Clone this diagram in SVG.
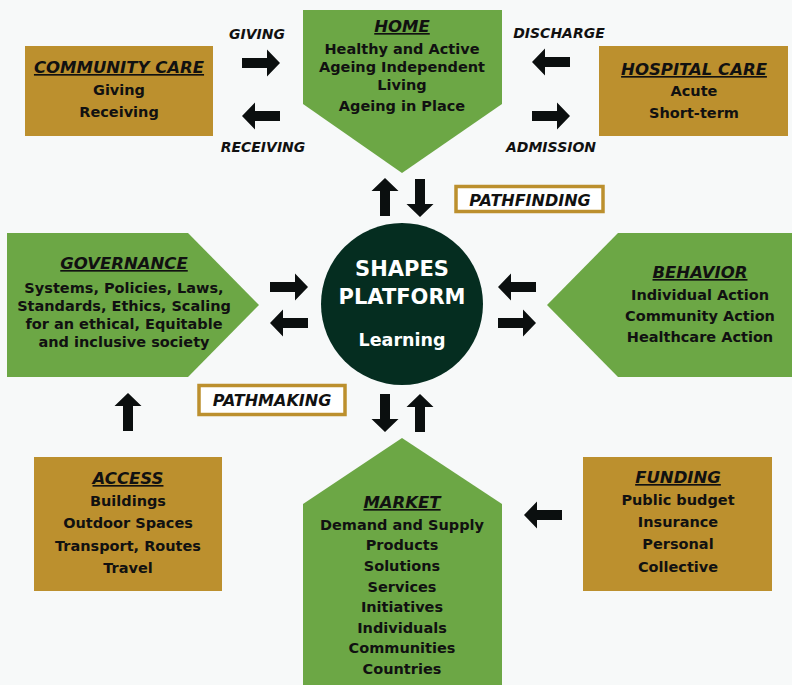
<svg xmlns="http://www.w3.org/2000/svg" xmlns:xlink="http://www.w3.org/1999/xlink" width="792" height="685" viewBox="0 0 792 685">
<style>
text{font-family:"DejaVu Sans","Liberation Sans",sans-serif;font-weight:bold;fill:#111;text-anchor:middle}
.t{font-size:16.5px;font-style:italic;text-decoration:underline}
.b{font-size:14.5px}
.l{font-size:14px;font-style:italic}
.p{font-size:16px;font-style:italic}
.w{fill:#fff}
.green{fill:#6ca745}
.gold{fill:#bc902e}
.tag{fill:#fff;stroke:#bc902e;stroke-width:3.5}
.arr{fill:#0b0f0f}
</style>
<defs>
<path id="ar" d="M0,-5 H25 V-13.5 L38,0 L25,13.5 V5 H0 Z"/>
</defs>
<rect width="792" height="685" fill="#f7f9f9"/>

<g id="home">
<polygon class="green" points="303,10 502,10 502,104 402,173 303,104"/>
<text class="t" x="402" y="32">HOME</text>
<text class="b" x="402" y="54">Healthy and Active</text>
<text class="b" x="402" y="72">Ageing Independent</text>
<text class="b" x="402" y="90">Living</text>
<text class="b" x="402" y="111">Ageing in Place</text>
</g>

<g id="community-care">
<rect class="gold" x="25" y="46" width="188" height="90"/>
<text class="t" x="119" y="73">COMMUNITY CARE</text>
<text class="b" x="119" y="95">Giving</text>
<text class="b" x="119" y="117">Receiving</text>
</g>

<g id="hospital-care">
<rect class="gold" x="599" y="46" width="189" height="90"/>
<text class="t" x="694" y="75">HOSPITAL CARE</text>
<text class="b" x="694" y="96">Acute</text>
<text class="b" x="694" y="118">Short-term</text>
</g>

<g id="governance">
<polygon class="green" points="7,233 188,233 259,305 188,377 7,377"/>
<text class="t" x="124" y="269">GOVERNANCE</text>
<text class="b" x="124" y="293">Systems, Policies, Laws,</text>
<text class="b" x="124" y="311">Standards, Ethics, Scaling</text>
<text class="b" x="124" y="329">for an ethical, Equitable</text>
<text class="b" x="124" y="347">and inclusive society</text>
</g>

<g id="behavior">
<polygon class="green" points="547,305 618,233 792,233 792,377 618,377"/>
<text class="t" x="700" y="278">BEHAVIOR</text>
<text class="b" x="700" y="300">Individual Action</text>
<text class="b" x="700" y="321">Community Action</text>
<text class="b" x="700" y="342">Healthcare Action</text>
</g>

<g id="platform">
<circle cx="402" cy="304" r="81" fill="#052d20"/>
<text class="w" x="402" y="275.5" style="font-size:21px">SHAPES</text>
<text class="w" x="402" y="303.5" style="font-size:21px">PLATFORM</text>
<text class="w" x="402" y="346" style="font-size:17.5px">Learning</text>
</g>

<g id="access">
<rect class="gold" x="34" y="457" width="188" height="134"/>
<text class="t" x="128" y="484">ACCESS</text>
<text class="b" x="128" y="506">Buildings</text>
<text class="b" x="128" y="528">Outdoor Spaces</text>
<text class="b" x="128" y="551">Transport, Routes</text>
<text class="b" x="128" y="573">Travel</text>
</g>

<g id="funding">
<rect class="gold" x="583" y="457" width="189" height="134"/>
<text class="t" x="678" y="483">FUNDING</text>
<text class="b" x="678" y="505">Public budget</text>
<text class="b" x="678" y="527">Insurance</text>
<text class="b" x="678" y="549">Personal</text>
<text class="b" x="678" y="572">Collective</text>
</g>

<g id="market">
<polygon class="green" points="303,504 402,438 502,504 502,685 303,685"/>
<text class="t" x="402" y="508">MARKET</text>
<text class="b" x="402" y="530">Demand and Supply</text>
<text class="b" x="402" y="550">Products</text>
<text class="b" x="402" y="571">Solutions</text>
<text class="b" x="402" y="592">Services</text>
<text class="b" x="402" y="612">Initiatives</text>
<text class="b" x="402" y="633">Individuals</text>
<text class="b" x="402" y="653">Communities</text>
<text class="b" x="402" y="674">Countries</text>
</g>

<g id="pathfinding">
<rect class="tag" x="456" y="186.5" width="147" height="25"/>
<text class="p" x="530" y="206">PATHFINDING</text>
</g>

<g id="pathmaking">
<rect class="tag" x="199" y="385.5" width="146" height="29"/>
<text class="p" x="272" y="406">PATHMAKING</text>
</g>

<g id="connectors" class="arr">
<text class="l" x="257" y="39">GIVING</text>
<text class="l" x="263" y="152">RECEIVING</text>
<text class="l" x="559" y="38">DISCHARGE</text>
<text class="l" x="551" y="152">ADMISSION</text>
<use xlink:href="#ar" transform="translate(242,63)"/>
<use xlink:href="#ar" transform="translate(280,116) rotate(180)"/>
<use xlink:href="#ar" transform="translate(570,62) rotate(180)"/>
<use xlink:href="#ar" transform="translate(532,116)"/>
<use xlink:href="#ar" transform="translate(385,216) rotate(-90)"/>
<use xlink:href="#ar" transform="translate(420,179) rotate(90)"/>
<use xlink:href="#ar" transform="translate(270,287)"/>
<use xlink:href="#ar" transform="translate(308,323) rotate(180)"/>
<use xlink:href="#ar" transform="translate(536,287) rotate(180)"/>
<use xlink:href="#ar" transform="translate(498,323)"/>
<use xlink:href="#ar" transform="translate(385,394) rotate(90)"/>
<use xlink:href="#ar" transform="translate(420,432) rotate(-90)"/>
<use xlink:href="#ar" transform="translate(128,431) rotate(-90)"/>
<use xlink:href="#ar" transform="translate(562,515) rotate(180)"/>
</g>
</svg>
